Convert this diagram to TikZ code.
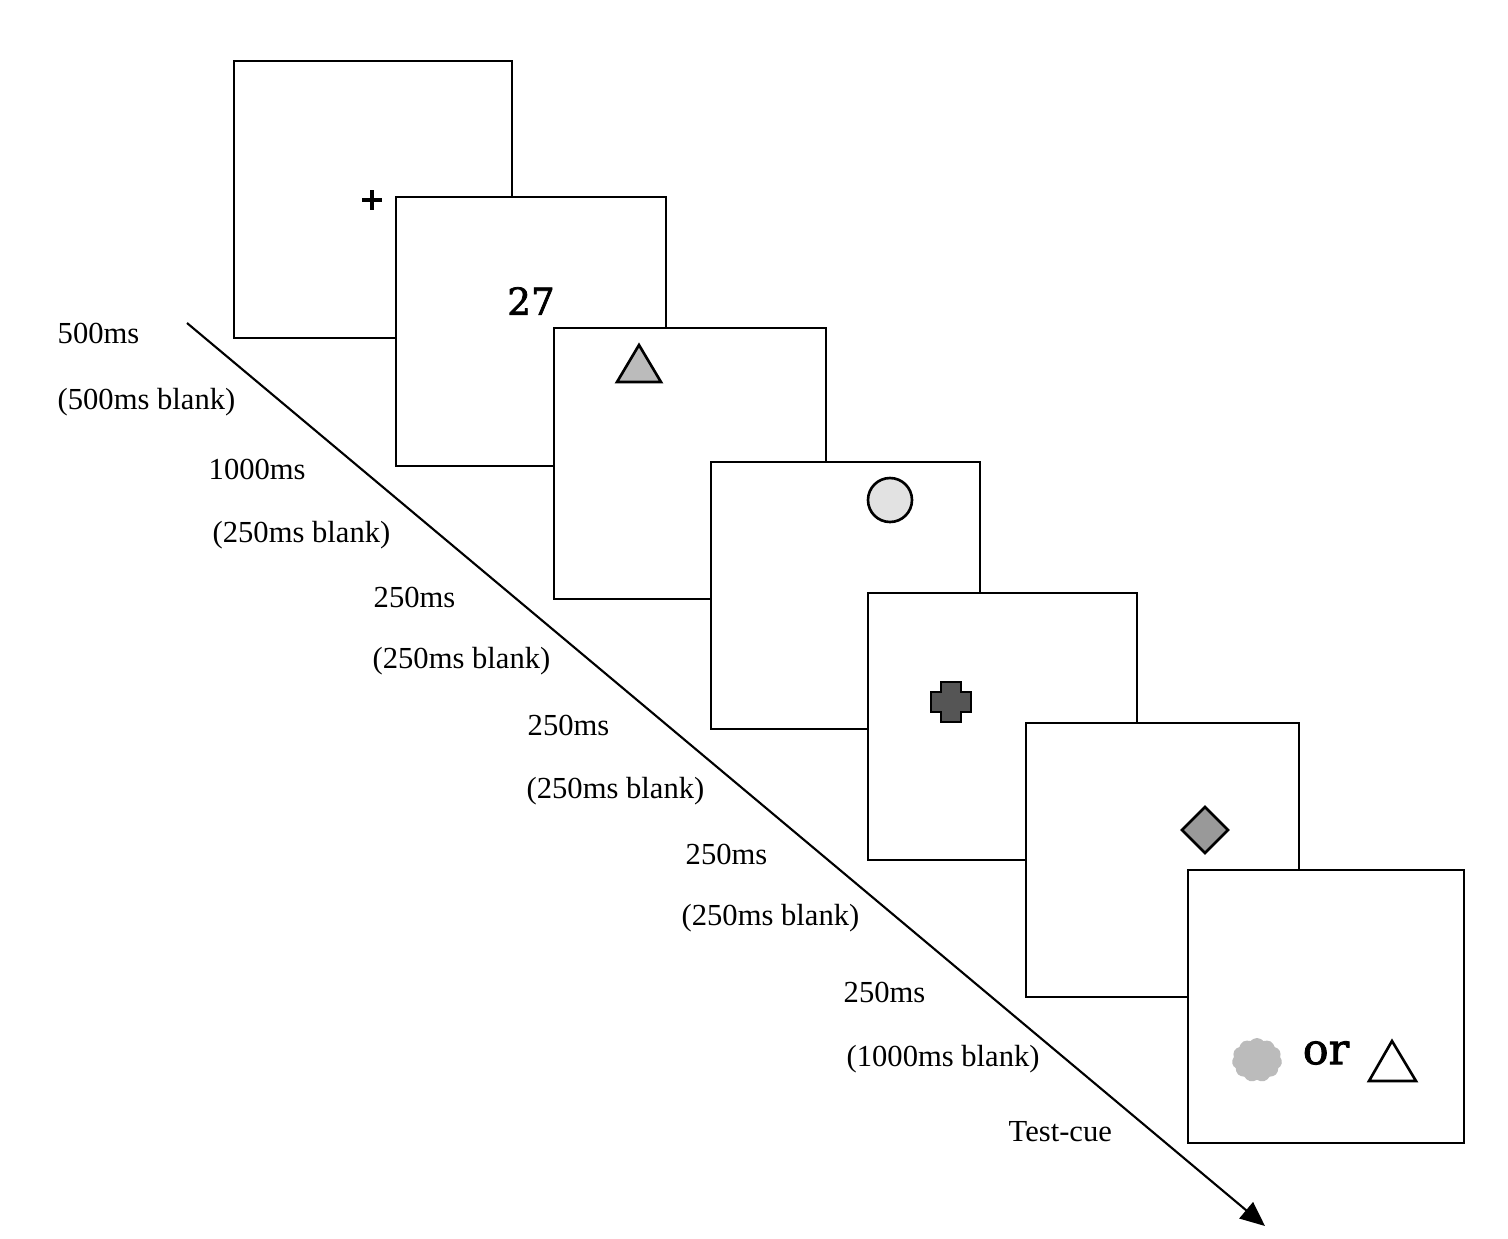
\documentclass[tikz,border=0pt]{standalone}
\usepackage{fontspec}
\setmainfont{Liberation Serif}
\newfontfamily\stimfont[FakeBold=2]{DejaVu Serif}
\usepackage{xcolor}
\usetikzlibrary{shapes.symbols, arrows.meta}
\definecolor{trigray}{HTML}{BBBBBB}
\definecolor{circgray}{HTML}{E2E2E2}
\definecolor{crossgray}{HTML}{555555}
\definecolor{diagray}{HTML}{999999}
\definecolor{blobgray}{HTML}{BBBBBB}
\tikzset{
    frame/.style = {draw, line width = 0.6pt, fill = white},
    stim/.style = {draw, line width = 0.75pt, line join = miter},
    timing/.style = {anchor = west, inner sep = 0pt, font = \fontsize{8.7}{10.5}\selectfont},
    timeline/.style = {line width = 0.6pt, -{Triangle[length = 7pt, width = 6pt]}}
}

\begin{document}
\begin{tikzpicture}[x = 0.01cm, y = -0.01cm]
    \useasboundingbox (0, 0) rectangle (1508, 1238);

    % draw time arrow
    \coordinate (tstart) at (187, 323);
    \coordinate (tend) at (1265, 1226);
    \draw[timeline] (tstart) -- (tend);


    % draw frames, later ones on top
    \draw[frame] (234, 61) rectangle (512, 338);
    \draw[line width = 1.2pt] (362, 200) -- (382, 200);
    \draw[line width = 1.2pt] (372, 190) -- (372, 210);

    \draw[frame] (396, 197) rectangle (666, 466);
    \node[font = \stimfont\fontsize{10.6}{12}\selectfont] (num) at (531, 301) {27};

    \draw[frame] (554, 328) rectangle (826, 599);
    \draw[stim, fill = trigray] (617, 382) -- (661, 382) -- (639, 345) -- cycle;

    \draw[frame] (711, 462) rectangle (980, 729);
    \draw[stim, fill = circgray] (890, 500) circle (22);

    \draw[frame] (868, 593) rectangle (1137, 860);
    \draw[stim, fill = crossgray] (941, 682) -- ++(20, 0) -- ++(0, 10) -- ++(10, 0) -- ++(0, 20)
        -- ++(-10, 0) -- ++(0, 10) -- ++(-20, 0) -- ++(0, -10) -- ++(-10, 0) -- ++(0, -20)
        -- ++(10, 0) -- cycle;

    \draw[frame] (1026, 723) rectangle (1299, 997);
    \draw[stim, fill = diagray] (1205, 807) -- (1228, 830) -- (1205, 853) -- (1182, 830) -- cycle;

    \draw[frame] (1188, 870) rectangle (1464, 1143);
    \node[cloud, cloud puffs = 11, cloud puff arc = 100, aspect = 1.15, fill = blobgray,
        minimum width = 0.5cm, minimum height = 0.44cm, inner sep = 0pt] (blob) at (1257, 1060) {};
    \node[font = \stimfont\fontsize{12.2}{14}\selectfont] (ortext) at (1326, 1053) {or};
    \draw[stim] (1369, 1081) -- (1416, 1081) -- (1392, 1041) -- cycle;


    % draw timings
    \node[timing] (t1) at (57, 333) {500ms};
    \node[timing] (b1) at (57, 402) {(500ms blank)};

    \node[timing] (t2) at (208, 469) {1000ms};
    \node[timing] (b2) at (212, 535) {(250ms blank)};

    \node[timing] (t3) at (373, 597) {250ms};
    \node[timing] (b3) at (372, 661) {(250ms blank)};

    \node[timing] (t4) at (527, 725) {250ms};
    \node[timing] (b4) at (526, 791) {(250ms blank)};

    \node[timing] (t5) at (685, 854) {250ms};
    \node[timing] (b5) at (681, 918) {(250ms blank)};

    \node[timing] (t6) at (843, 992) {250ms};
    \node[timing] (b6) at (846, 1059) {(1000ms blank)};

    \node[timing] (cue) at (1008, 1132) {Test-cue};

\end{tikzpicture}
\end{document}
